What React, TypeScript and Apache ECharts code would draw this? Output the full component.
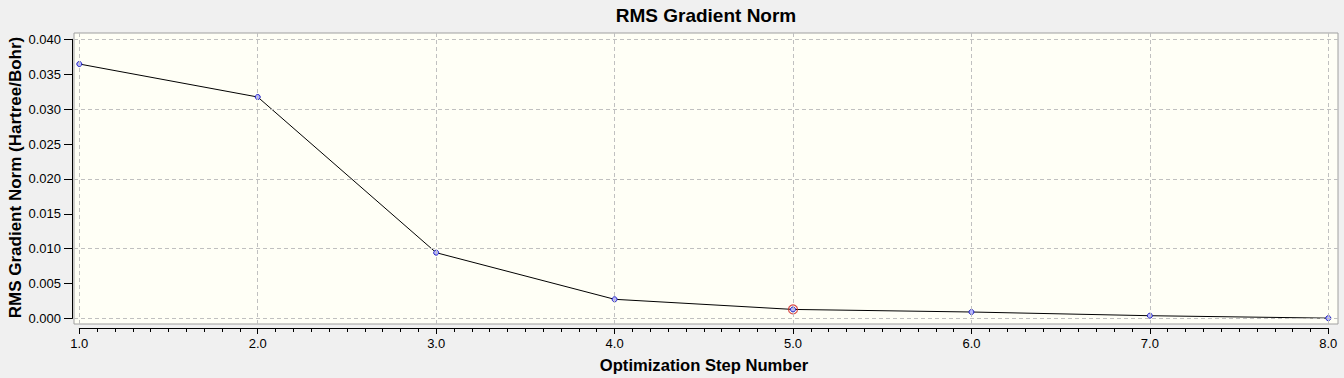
import React, { useEffect, useRef } from "react";
import * as echarts from "echarts";

const steps = [1, 2, 3, 4, 5, 6, 7, 8];
const rmsGradient = [0.03646, 0.03173, 0.00943, 0.00275, 0.0013, 0.00093, 0.0004, 0.00005];
const highlightIndex = 4;
const xTicks = [1, 2, 3, 4, 5, 6, 7, 8];
const yTicks = [0, 0.005, 0.01, 0.015, 0.02, 0.025, 0.03, 0.035, 0.04];

const FONT = "'Liberation Sans', Arial, sans-serif";

export default function App() {
  const ref = useRef<HTMLDivElement>(null);
  useEffect(() => {
    if (!ref.current) return;
    const chart = echarts.init(ref.current, undefined, { renderer: "svg" });
    // data grid geometry
    const L = 79.3, R = 1328.3, T = 39.3, B = 318.5;
    // box geometry
    const bL = 74, bR = 1338, bT = 33, bB = 324;
    const pxX = (R - L) / (8 - 1);
    const pxY = (B - T) / 0.04;
    const option: any = {
      animation: false,
      backgroundColor: "#f0f0f0",
      textStyle: { fontFamily: FONT },
      grid: [
        { left: L, top: T, width: R - L, height: B - T, show: false },
        {
          left: bL, top: bT, width: bR - bL, height: bB - bT, show: true,
          backgroundColor: "#fffff6", borderColor: "#a0a0a0", borderWidth: 1, z: 0,
        },
      ],
      xAxis: [
        {
          type: "value", gridIndex: 0, min: 1, max: 8, interval: 1, offset: 9.5,
          axisLine: { show: true, onZero: false, lineStyle: { color: "#000", width: 1 } },
          axisTick: { show: true, length: 6, lineStyle: { color: "#000" } },
          minorTick: { show: true, splitNumber: 10, length: 4, lineStyle: { color: "#000" } },
          axisLabel: { color: "#000", fontSize: 13, fontFamily: FONT, margin: 9, formatter: (v: number) => v.toFixed(1) },
          splitLine: { show: false },
        },
        {
          type: "value", gridIndex: 1, min: 1 - (L - bL) / pxX, max: 8 + (bR - R) / pxX, show: false,
          splitLine: { show: false },
        },
      ],
      yAxis: [
        {
          type: "value", gridIndex: 0, min: 0, max: 0.04, interval: 0.005, offset: 7.3,
          axisLine: { show: true, onZero: false, lineStyle: { color: "#000", width: 1 } },
          axisTick: { show: true, length: 8, lineStyle: { color: "#000" } },
          axisLabel: { color: "#000", fontSize: 13, fontFamily: FONT, margin: 11, formatter: (v: number) => v.toFixed(3) },
          splitLine: { show: false },
        },
        {
          type: "value", gridIndex: 1, min: -(bB - B) / pxY, max: 0.04 + (T - bT) / pxY, show: false,
          splitLine: { show: false },
        },
      ],
      series: [
        {
          type: "line", xAxisIndex: 1, yAxisIndex: 1, data: [], silent: true,
          markLine: {
            silent: true, symbol: "none", label: { show: false },
            lineStyle: { color: "#c0c0c0", type: [4, 3], width: 1 },
            data: [
              ...xTicks.map((x) => ({ xAxis: x })),
              ...yTicks.map((y) => ({ yAxis: y })),
            ],
          },
        },
        {
          type: "line", xAxisIndex: 0, yAxisIndex: 0,
          data: steps.map((s, i) => [s, rmsGradient[i]]),
          lineStyle: { color: "#000", width: 1 },
          symbol: "circle", symbolSize: 5, showSymbol: true,
          itemStyle: { color: "#b8b8ff", borderColor: "#2020c0", borderWidth: 1 },
          z: 3,
        },
        {
          type: "scatter", xAxisIndex: 0, yAxisIndex: 0,
          data: [[steps[highlightIndex], rmsGradient[highlightIndex]]],
          symbol: "circle", symbolSize: 9,
          itemStyle: { color: "rgba(0,0,0,0)", borderColor: "#d02020", borderWidth: 1.2 },
          z: 4,
        },
      ],
      graphic: [
        {
          type: "text", x: 706, y: 15,
          style: { text: "RMS Gradient Norm", font: `bold 19px ${FONT}`, fill: "#000", align: "center", verticalAlign: "middle" },
        },
        {
          type: "text", x: 704, y: 365,
          style: { text: "Optimization Step Number", font: `bold 16.6px ${FONT}`, fill: "#000", align: "center", verticalAlign: "middle" },
        },
        {
          type: "text", x: 15, y: 177.5, rotation: Math.PI / 2,
          style: { text: "RMS Gradient Norm (Hartree/Bohr)", font: `bold 17px ${FONT}`, fill: "#000", align: "center", verticalAlign: "middle" },
        },
      ],
    };
    chart.setOption(option);
    return () => chart.dispose();
  }, []);
  return <div ref={ref} style={{ width: 1344, height: 378, position: "absolute", left: 0, top: 0 }} />;
}
